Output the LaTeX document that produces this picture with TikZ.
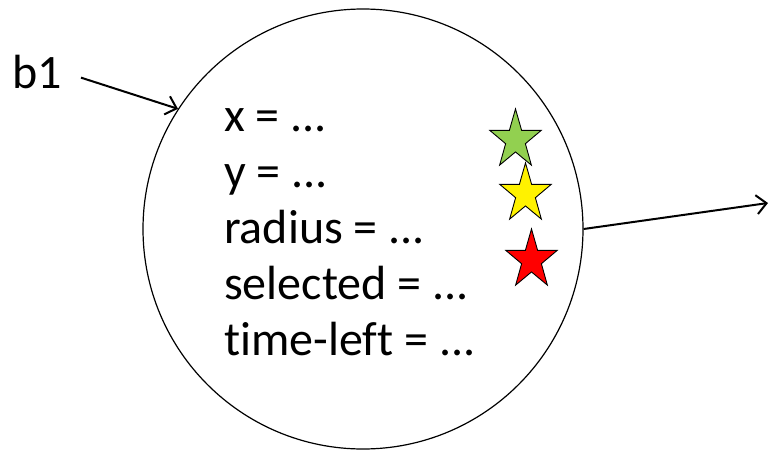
\documentclass[tikz,border=0pt]{standalone}
\usepackage{fontspec}
\setmainfont{Carlito}[Ligatures=NoCommon]
\usepackage{tikz}
\usetikzlibrary{arrows.meta,shapes.geometric}

\tikzset{
	field/.style={anchor=base west,inner sep=0pt,font=\fontsize{48}{48}\selectfont},
	mystar/.style={star,star points=5,star point ratio=2.6,draw,line width=0.9pt,minimum size=54pt,inner sep=0pt,yscale=1.15},
}

\begin{document}
\begin{tikzpicture}[x=1pt,y=-1pt,>={Straight Barb[length=10pt,width=19pt]}]
			\useasboundingbox (0,0) rectangle (769,451);
			
			\node [circle,draw,line width=1.2pt,minimum size=440pt,inner sep=0pt] (ball) at (363,229) {};
			
			\node [field] (b1) at (12,88) {b1};
			\node [field] (fx) at (224,131) {x = ...};
			\node [field] (fy) at (224,187) {y = ...};
			\node [field] (fr) at (224,243) {radius = ...};
			\node [field] (fs) at (224,299) {selected = ...};
			\node [field] (ft) at (224,355) {time-left = ...};
			
			\node [mystar,fill={rgb,255:red,146;green,208;blue,80}] (greenstar) at (515.5,140) {};
			\node [mystar,fill=yellow] (yellowstar) at (525.5,194) {};
			\node [mystar,fill=red] (redstar) at (531.5,260) {};
			
			\coordinate (out) at (768,203);
			\draw [->,line width=2pt,shorten <=20pt] (b1.east) -- (ball.147.4);
			\draw [->,line width=2pt] (ball.-0.5) -- (out);
\end{tikzpicture}
\end{document}
